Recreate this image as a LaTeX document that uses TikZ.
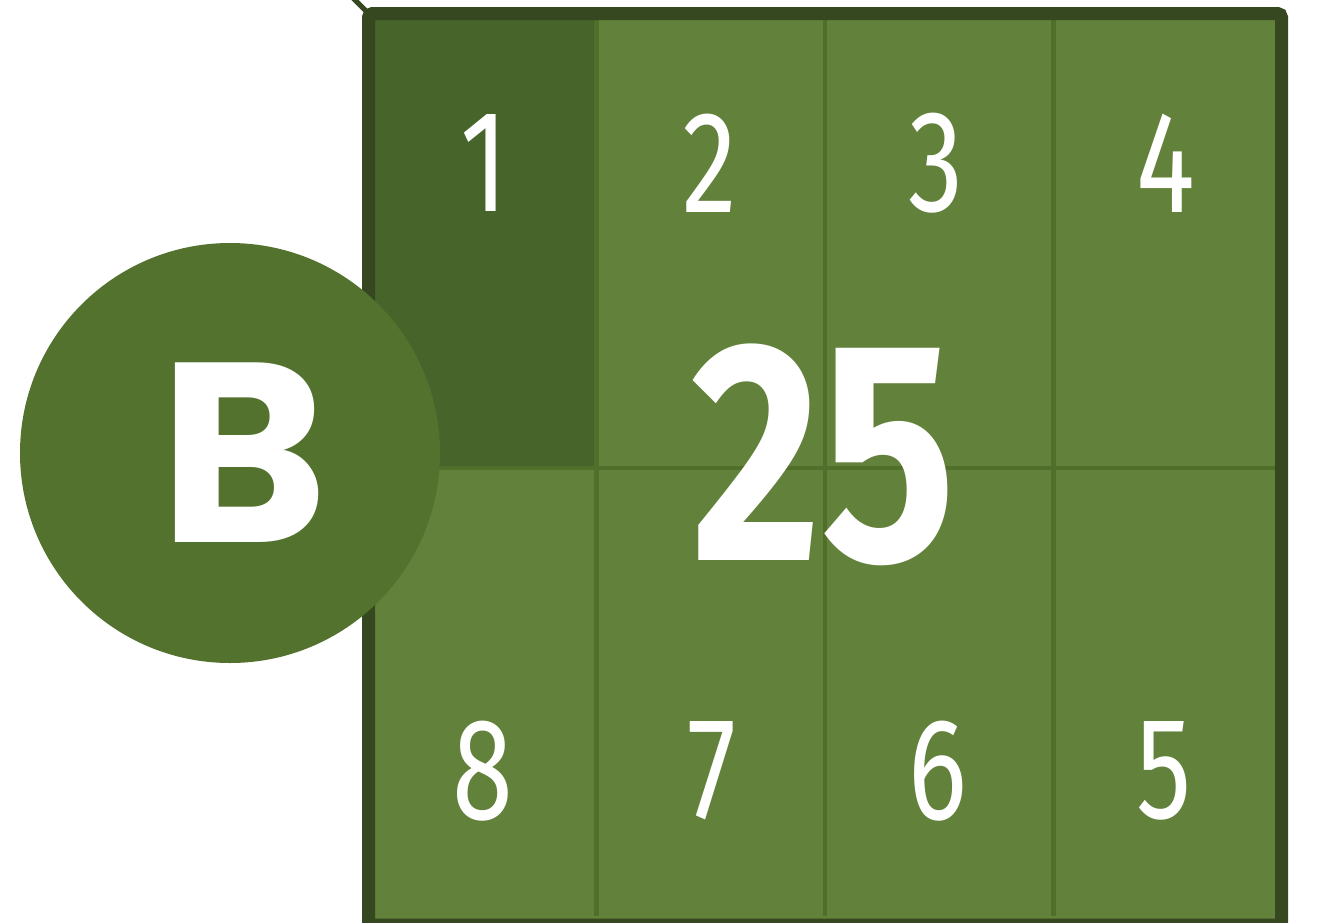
\documentclass[tikz,border=0pt]{standalone}
\usepackage{fontspec}
\setmainfont{Fira Sans}
\newfontfamily\bfont{Poppins}[UprightFont=* Bold]
\definecolor{framec}{HTML}{36481F}
\definecolor{cellc}{HTML}{62813A}
\definecolor{darkc}{HTML}{47642A}
\definecolor{sepc}{HTML}{4F6F2A}
\definecolor{circc}{HTML}{52722D}
\tikzset{
  num/.style={text=white, inner sep=0pt, xscale=0.76, font=\fontsize{145}{150}\selectfont},
  bignum/.style={text=white, inner sep=0pt, xscale=0.8, font=\fontsize{314}{320}\selectfont\bfseries},
  sepline/.style={draw=sepc, line width=4.5pt},
}
\begin{document}
\begin{tikzpicture}[x=1pt,y=-1pt]
\useasboundingbox (0,0) rectangle (1326,922);
% inner area
\fill[cellc] (368,13) rectangle (1282,924);
\fill[darkc] (375,20) rectangle (596,468);
% separators
\draw[sepline] (596.5,20) -- (596.5,916);
\draw[sepline] (825,20) -- (825,916);
\draw[sepline] (1053.5,20) -- (1053.5,916);
\draw[sepline] (375,468) -- (1275,468);
% frame
\coordinate (tl) at (368.5,13.5);
\coordinate (br) at (1281.5,925);
\coordinate (off) at (346,-9);
\draw[framec, line width=13pt, rounded corners=4pt] (tl) rectangle (br);
\draw[framec, line width=5pt] (tl) -- (off);
% numbers
\node[num] (n1) at (484,163) {1};
\node[num] (n2) at (710,163) {2};
\node[num] (n3) at (936,163) {3};
\node[num] (n4) at (1166,163) {4};
\node[num] (n8) at (483,771) {8};
\node[num] (n7) at (712,771) {7};
\node[num] (n6) at (938,771) {6};
\node[num] (n5) at (1164,771) {5};
% circle
\node[circle, fill=circc, minimum size=420pt, inner sep=0pt] (circ) at (230,453) {};
\node[text=white, inner sep=0pt, font=\bfont\fontsize{256}{260}\selectfont] (B) at (244,453) {B};
% big number
\node[bignum] (big) at (824,455) {25};
\end{tikzpicture}
\end{document}
